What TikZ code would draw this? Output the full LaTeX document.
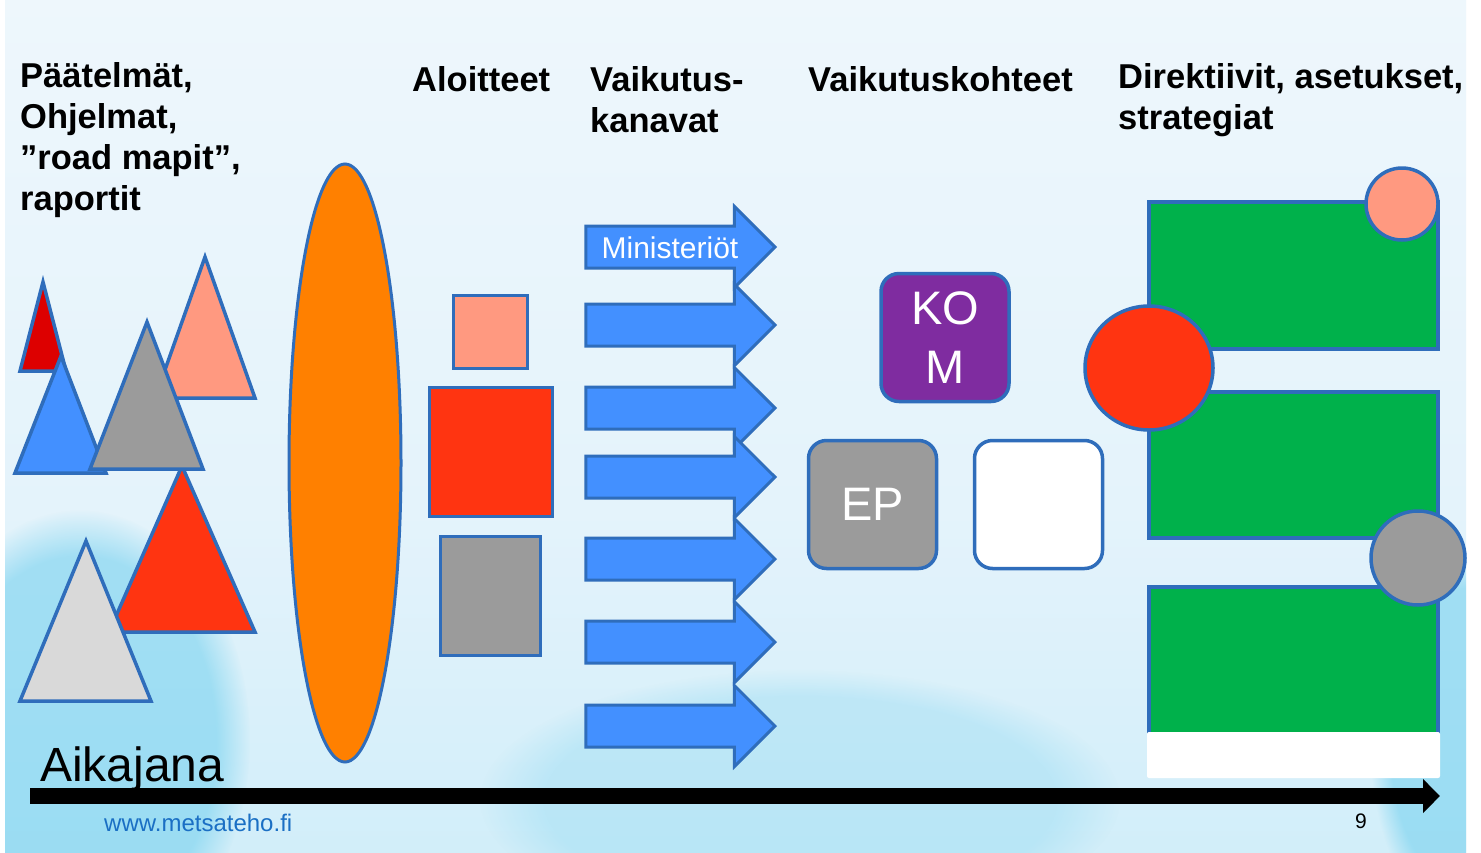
\documentclass[tikz,border=0pt]{standalone}
\usepackage{fontspec}
\setmainfont{Liberation Sans}
\usetikzlibrary{shapes.geometric,shapes.arrows,arrows.meta,fadings}

\definecolor{edgeblue}{HTML}{2F6DBB}
\definecolor{arrowblue}{HTML}{4390FF}
\definecolor{salmonpink}{HTML}{FF9980}
\definecolor{hotred}{HTML}{FF3411}
\definecolor{deepred}{HTML}{DD0000}
\definecolor{midgray}{HTML}{9B9B9B}
\definecolor{palegray}{HTML}{D9D9D9}
\definecolor{ellorange}{HTML}{FF8000}
\definecolor{kompurple}{HTML}{7F2CA0}
\definecolor{dirgreen}{HTML}{00B14B}
\definecolor{weblink}{HTML}{1A6FC4}
\definecolor{skytop}{HTML}{F6FAFD}
\definecolor{skymid}{HTML}{E4F3FB}
\definecolor{skylow}{HTML}{CDEDF9}
\definecolor{skybot}{HTML}{84D5F1}
\definecolor{cloudblue}{HTML}{6ECFEE}

\pgfdeclareverticalshading{sky}{100bp}{color(0bp)=(skybot); color(20bp)=(skylow); color(45bp)=(skymid); color(100bp)=(skytop)}

\tikzset{
  shape edge/.style={draw=edgeblue, line width=3.5pt},
  heading/.style={font=\fontsize{34.5}{41}\selectfont\bfseries, align=left, anchor=base west, inner sep=0pt},
  chan/.style={single arrow, shape edge, line width=3pt, fill=arrowblue, minimum height=189pt,
    single arrow head extend=19.5pt, inner sep=0pt, text height=19.5pt, text depth=19.5pt, anchor=tip},
  target/.style={shape edge, rounded corners=18pt, minimum width=128pt, minimum height=128pt,
    text=white, align=center, font=\fontsize{47}{59}\selectfont},
  cloud/.style={cloudblue, opacity=.55, path fading=circle with fuzzy edge 20 percent},
  timeline/.style={line width=16pt, -{Triangle[length=17pt,width=33pt]}},
}

\begin{document}
\begin{tikzpicture}[x=1pt,y=-1pt]
    % background
    \useasboundingbox (0,0) rectangle (1481,852);
    \fill[white] (0,0) rectangle (1481,852);
    \begin{scope}
        \clip (5,0) rectangle (1466,852);
        \shade[shading=sky] (5,0) rectangle (1466,852);
        \fill[cloud] (80,740) ellipse (170 and 230);
        \fill[cloud] (1470,740) ellipse (100 and 190);
        \fill[cloud, opacity=.25] (800,800) ellipse (320 and 130);
    \end{scope}

    % headings (base = last line)
    \node[heading] (paat) at (20,210) {Päätelmät,\\Ohjelmat,\\”road mapit”,\\raportit};
    \node[heading] (aloit) at (412,91) {Aloitteet};
    \node[heading] (kanav) at (590,132) {Vaikutus-\\kanavat};
    \node[heading] (kohde) at (808,91) {Vaikutuskohteet};
    \node[heading] (direk) at (1118,129) {Direktiivit, asetukset,\\strategiat};

    % triangles
    \draw[shape edge, fill=deepred] (43,282) -- (20,371) -- (66,371) -- cycle;
    \draw[shape edge, fill=salmonpink] (205,257) -- (155,398) -- (255,398) -- cycle;
    \draw[shape edge, fill=arrowblue] (61,356) -- (15,473) -- (106,473) -- cycle;
    \draw[shape edge, fill=hotred] (182,466) -- (109,632) -- (255,632) -- cycle;
    \draw[shape edge, fill=midgray] (147,322) -- (90,469) -- (203,469) -- cycle;
    \draw[shape edge, fill=palegray] (86,541) -- (20,701) -- (151,701) -- cycle;

    % ellipse
    \node[ellipse, shape edge, line width=3pt, fill=ellorange, minimum width=112pt, minimum height=598pt] (oval) at (345,463) {};

    % initiatives
    \draw[shape edge, line width=3pt, fill=salmonpink] (453,295) rectangle (527,368);
    \draw[shape edge, line width=3pt, fill=hotred] (429,387) rectangle (552,516);
    \draw[shape edge, line width=3pt, fill=midgray] (440,536) rectangle (540,655);

    % channels
    \foreach \ty [count=\i] in {247,325,408,477,559,642,726}
        \node[chan] (arr\i) at (777,\ty) {};
    \node[text=white, font=\fontsize{30}{32}\selectfont, inner sep=0pt] (minist) at (670,248) {Ministeriöt};

    % targets
    \node[target, fill=kompurple] (kom) at (945,337.5) {KO\\M};
    \node[target, fill=midgray] (ep) at (872.5,504.5) {EP};
    \node[target, fill=white] (blank) at (1038.5,504.5) {};

    % directives
    \draw[shape edge, fill=dirgreen] (1149,202) rectangle (1438,349);
    \draw[shape edge, fill=dirgreen] (1149,392) rectangle (1438,538);
    \draw[shape edge, fill=dirgreen] (1149,587) rectangle (1438,760);
    \fill[white, rounded corners=2pt] (1147,732) rectangle (1440,778);
    \draw[shape edge, fill=salmonpink] (1402,204) circle (36);
    \draw[shape edge, fill=hotred] (1149,368) ellipse (64 and 62);
    \draw[shape edge, fill=midgray] (1418,558) circle (47);

    % timeline
    \node[font=\fontsize{48}{50}\selectfont, anchor=base west, inner sep=0pt] (aika) at (40,781) {Aikajana};
    \coordinate (t0) at (30,796);
    \coordinate (t1) at (1440,796);
    \draw[timeline] (t0) -- (t1);
    \node[text=weblink, font=\fontsize{24}{26}\selectfont, anchor=base west, inner sep=0pt] (web) at (104,831) {www.metsateho.fi};
    \node[font=\fontsize{21}{24}\selectfont, anchor=base west, inner sep=0pt] (page) at (1355,828) {9};
\end{tikzpicture}
\end{document}
